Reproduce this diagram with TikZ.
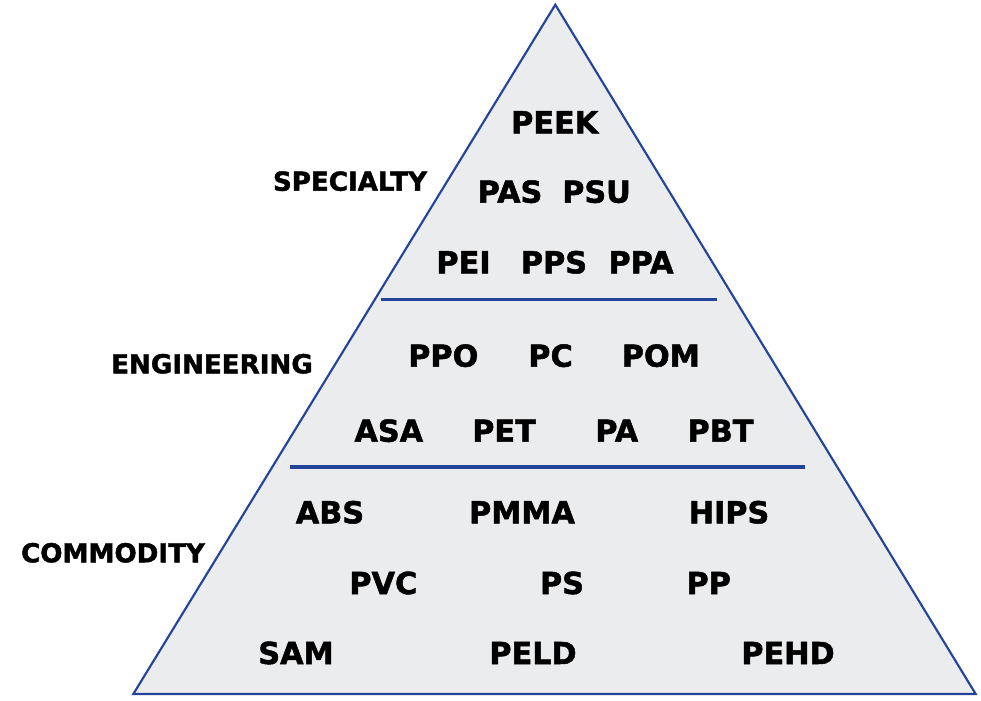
\documentclass[tikz,border=0pt]{standalone}
\usepackage{fontspec}
\setmainfont{DejaVu Sans}[BoldFeatures={FakeBold=1.6}]
\usepackage{tikz}
\usetikzlibrary{positioning,calc}
\definecolor{pyrblue}{HTML}{24449C}
\definecolor{pyrfill}{HTML}{EBECEE}
\tikzset{pyr/.style={draw=pyrblue, line width=1.6pt, line join=miter, fill=pyrfill}}
\tikzset{tier/.style={draw=pyrblue, line width=2.4pt}}
\tikzset{poly/.style={anchor=base, inner sep=0pt, font=\fontsize{22.7}{24}\selectfont\bfseries}}
\tikzset{level/.style={anchor=base, inner sep=0pt, font=\fontsize{19.6}{22}\selectfont\bfseries}}

\begin{document}
\begin{tikzpicture}[x=0.75pt, y=-0.75pt]
	\useasboundingbox (0,0) rectangle (981,700);
	\coordinate (top) at (555.3,4.7);
	\coordinate (br) at (975.7,694);
	\coordinate (bl) at (133.3,694);
	\draw[pyr] (top) -- (br) -- (bl) -- cycle;
	% tier dividers
	\coordinate (u1) at (380.7,299.3);
	\coordinate (u2) at (716.7,299.3);
	\coordinate (l1) at (290,467);
	\coordinate (l2) at (805,467);
	\draw[tier] (u1) -- (u2);
	\draw[tier] (l1) -- (l2);
	% levels
	\node[level] (spec) at (350,190.7) {SPECIALTY};
	\node[level] (engi) at (212,373.3) {ENGINEERING};
	\node[level] (comm) at (113,562.3) {COMMODITY};
	% specialty
	\node[poly] (peek) at (554.7,133.3) {PEEK};
	\node[poly] (pas) at (510,202.7) {PAS};
	\node[poly] (psu) at (596.5,202.7) {PSU};
	\node[poly] (pei) at (463.5,273.3) {PEI};
	\node[poly] (pps) at (554,273.3) {PPS};
	\node[poly] (ppa) at (641,273.3) {PPA};
	% engineering
	\node[poly] (ppo) at (443.3,366.7) {PPO};
	\node[poly] (pc) at (550.5,366.7) {PC};
	\node[poly] (pom) at (660.8,366.7) {POM};
	\node[poly] (asa) at (388.8,441.7) {ASA};
	\node[poly] (pet) at (504,441.7) {PET};
	\node[poly] (pa) at (616.8,441.7) {PA};
	\node[poly] (pbt) at (720.5,441.7) {PBT};
	% commodity
	\node[poly] (abs) at (330,523.3) {ABS};
	\node[poly] (pmma) at (522,523.3) {PMMA};
	\node[poly] (hips) at (729,523.3) {HIPS};
	\node[poly] (pvc) at (383.3,594) {PVC};
	\node[poly] (ps) at (562,594) {PS};
	\node[poly] (pp) at (708.7,594) {PP};
	\node[poly] (sam) at (296,664) {SAM};
	\node[poly] (peld) at (533,664) {PELD};
	\node[poly] (pehd) at (788,664) {PEHD};
\end{tikzpicture}
\end{document}
